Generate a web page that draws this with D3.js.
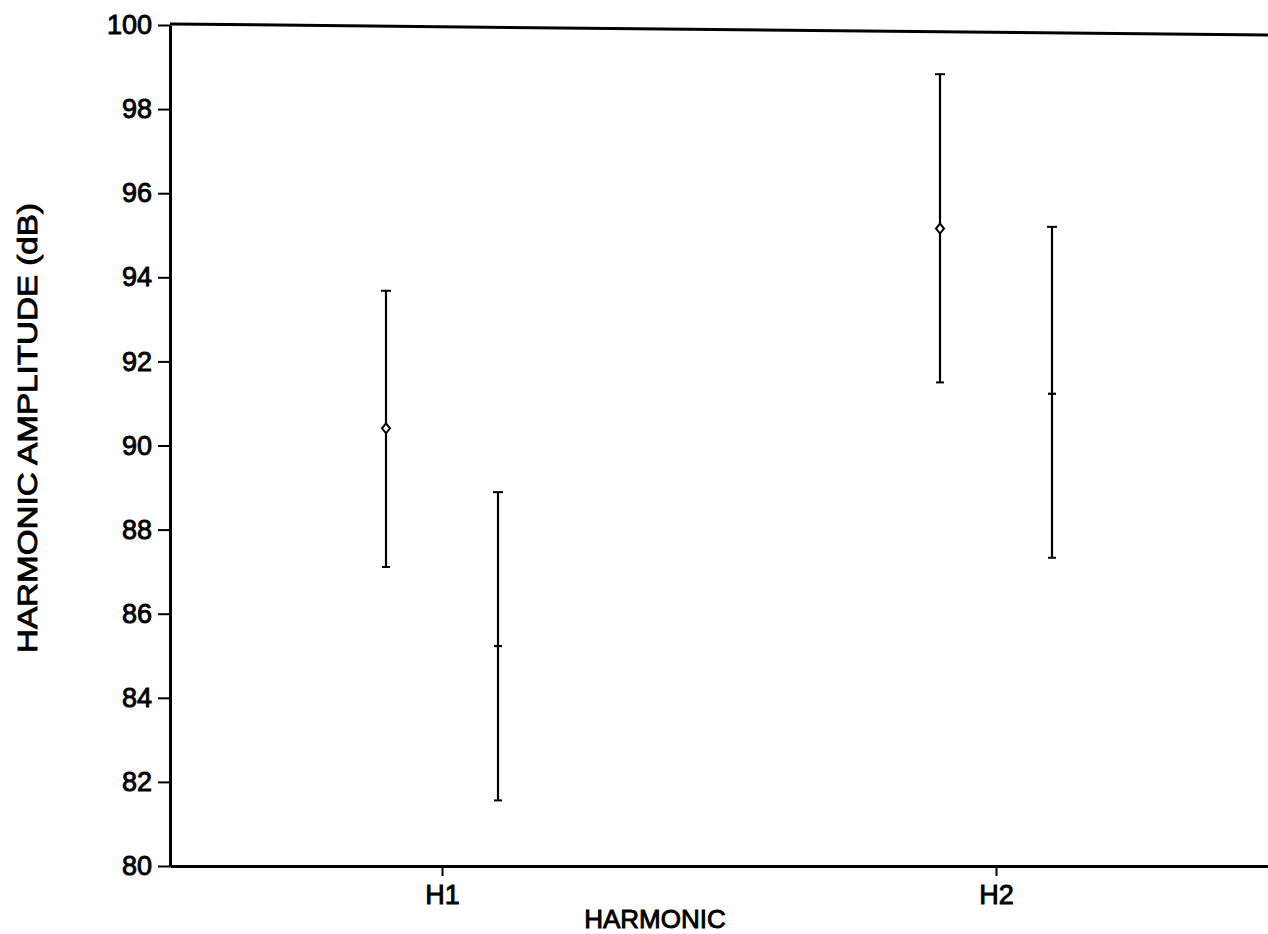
<!DOCTYPE html>
<html>
<head>
<meta charset="utf-8">
<script src="https://cdn.jsdelivr.net/npm/d3@7"></script>
<style>
  html, body { margin: 0; padding: 0; background: #fff; }
  svg { display: block; }
  text { font-family: "Liberation Sans", Arial, Helvetica, sans-serif; fill: #000; }
</style>
</head>
<body>
<svg id="chart" width="1268" height="934"></svg>
<script>
// Harmonic amplitudes: mean with lower/upper bounds per harmonic, two series
const categories = ["H1", "H2"];
const seriesKeys = ["s1", "s2"];

const s1Mean  = [90.41, 95.16];
const s1Lower = [87.11, 91.50];
const s1Upper = [93.68, 98.83];

const s2Mean  = [85.23, 91.23];
const s2Lower = [81.56, 87.33];
const s2Upper = [88.89, 95.20];

const yTicks = [80, 82, 84, 86, 88, 90, 92, 94, 96, 98, 100];

const xTitle = "HARMONIC";
const yTitle = "HARMONIC AMPLITUDE (dB)";

// Rows built from the arrays above
const rows = [];
categories.forEach((c, i) => {
  rows.push({ cat: c, key: "s1", mean: s1Mean[i], lo: s1Lower[i], hi: s1Upper[i] });
  rows.push({ cat: c, key: "s2", mean: s2Mean[i], lo: s2Lower[i], hi: s2Upper[i] });
});

const svg = d3.select("#chart");
const plotLeft = 170, plotRight = 1268, plotTop = 25, plotBottom = 866;

const x = d3.scalePoint().domain(categories).range([plotLeft, plotRight]).padding(0.491);
const xOff = d3.scalePoint().domain(seriesKeys).range([-56, 56]);
const y = d3.scaleLinear().domain([80, 100]).range([plotBottom, plotTop]);

const ink = "#000";
const textStroke = 0.9;

// Frame top edge
svg.append("line")
  .attr("x1", plotLeft).attr("y1", y(100) - 1)
  .attr("x2", plotRight).attr("y2", y(100) + 10)
  .attr("stroke", ink).attr("stroke-width", 3);

// Y axis
const yAxis = svg.append("g")
  .attr("transform", `translate(${plotLeft},0)`)
  .call(d3.axisLeft(y).tickValues(yTicks).tickSize(12).tickPadding(6).tickSizeOuter(0));
yAxis.select(".domain").attr("stroke", ink).attr("stroke-width", 3);
yAxis.selectAll(".tick line").attr("stroke", ink).attr("stroke-width", 2);
yAxis.selectAll(".tick text")
  .style("font-size", "27px")
  .attr("fill", ink).attr("stroke", ink).attr("stroke-width", textStroke);

// X axis
const xAxis = svg.append("g")
  .attr("transform", `translate(0,${plotBottom})`)
  .call(d3.axisBottom(x).tickSize(10).tickPadding(9).tickSizeOuter(0));
xAxis.select(".domain").attr("stroke", ink).attr("stroke-width", 3);
xAxis.selectAll(".tick line").attr("stroke", ink).attr("stroke-width", 2);
xAxis.selectAll(".tick text")
  .style("font-size", "27px")
  .attr("fill", ink).attr("stroke", ink).attr("stroke-width", textStroke);

// Axis titles
svg.append("text")
  .attr("x", 655).attr("y", 928)
  .attr("text-anchor", "middle")
  .style("font-size", "26px")
  .attr("stroke", ink).attr("stroke-width", textStroke)
  .text(xTitle);

svg.append("text")
  .attr("transform", "translate(37,428) rotate(-90)")
  .attr("text-anchor", "middle")
  .attr("textLength", 450)
  .attr("lengthAdjust", "spacingAndGlyphs")
  .style("font-size", "27px")
  .attr("stroke", ink).attr("stroke-width", textStroke)
  .text(yTitle);

// Error bars
const bars = svg.append("g").selectAll("g").data(rows).join("g")
  .attr("transform", d => `translate(${x(d.cat) + xOff(d.key)},0)`);

bars.append("line")
  .attr("x1", 0).attr("x2", 0)
  .attr("y1", d => y(d.hi)).attr("y2", d => y(d.lo))
  .attr("stroke", ink).attr("stroke-width", 2.2);

bars.append("line")
  .attr("x1", -5).attr("x2", 5)
  .attr("y1", d => y(d.hi)).attr("y2", d => y(d.hi))
  .attr("stroke", ink).attr("stroke-width", 2);

bars.append("line")
  .attr("x1", -4).attr("x2", 4)
  .attr("y1", d => y(d.lo)).attr("y2", d => y(d.lo))
  .attr("stroke", ink).attr("stroke-width", 2);

// Mean markers: diamonds for the first series, short dashes for the second
bars.filter(d => d.key === "s1").append("path")
  .attr("transform", d => `translate(0,${y(d.mean)})`)
  .attr("d", "M0,-5L4,0L0,5L-4,0Z")
  .attr("fill", "#fff").attr("stroke", ink).attr("stroke-width", 2);

bars.filter(d => d.key === "s2").append("line")
  .attr("x1", -4).attr("x2", 4)
  .attr("y1", d => y(d.mean)).attr("y2", d => y(d.mean))
  .attr("stroke", ink).attr("stroke-width", 2.2);
</script>
</body>
</html>
